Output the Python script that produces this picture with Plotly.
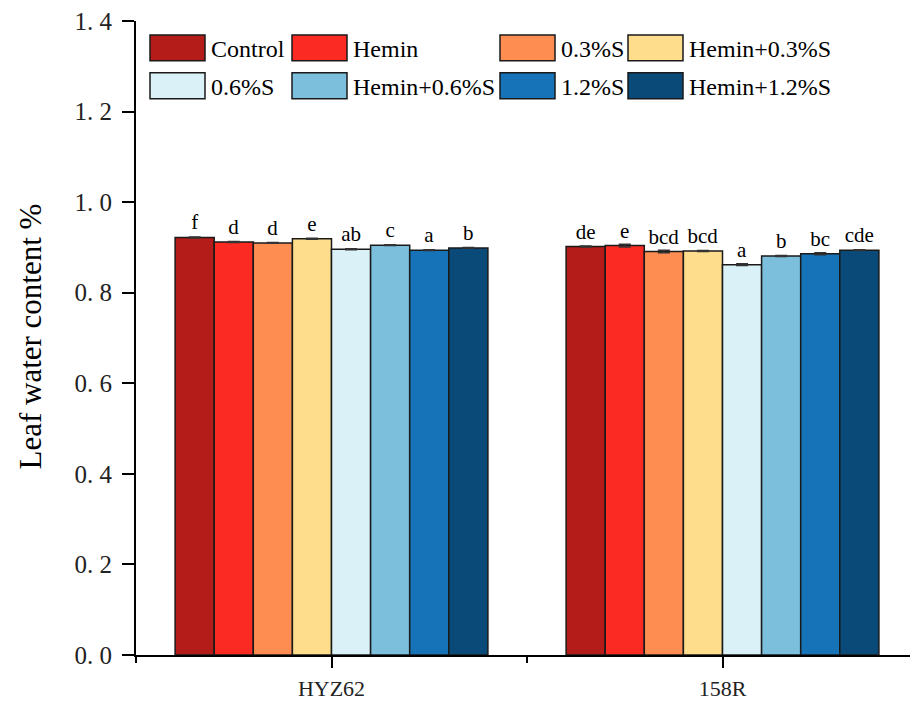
import plotly.graph_objects as go

categories = ["HYZ62", "158R"]
treatments = ["Control", "Hemin", "0.3%S", "Hemin+0.3%S",
              "0.6%S", "Hemin+0.6%S", "1.2%S", "Hemin+1.2%S"]
colors = ["#B31C18", "#FB2B23", "#FE8D52", "#FEDE8C",
          "#DAF1F7", "#7BBFDC", "#1673B8", "#0A4A78"]
values = {
    "Control":     [0.922, 0.902],
    "Hemin":       [0.912, 0.904],
    "0.3%S":       [0.910, 0.891],
    "Hemin+0.3%S": [0.919, 0.892],
    "0.6%S":       [0.896, 0.862],
    "Hemin+0.6%S": [0.905, 0.881],
    "1.2%S":       [0.894, 0.886],
    "Hemin+1.2%S": [0.899, 0.894],
}
errors = {
    "Control":     [0.001, 0.001],
    "Hemin":       [0.001, 0.003],
    "0.3%S":       [0.001, 0.003],
    "Hemin+0.3%S": [0.001, 0.001],
    "0.6%S":       [0.001, 0.002],
    "Hemin+0.6%S": [0.001, 0.001],
    "1.2%S":       [0.001, 0.002],
    "Hemin+1.2%S": [0.001, 0.001],
}
letters = {
    "Control":     ["f", "de"],
    "Hemin":       ["d", "e"],
    "0.3%S":       ["d", "bcd"],
    "Hemin+0.3%S": ["e", "bcd"],
    "0.6%S":       ["ab", "a"],
    "Hemin+0.6%S": ["c", "b"],
    "1.2%S":       ["a", "bc"],
    "Hemin+1.2%S": ["b", "cde"],
}
y_ticks = [0.0, 0.2, 0.4, 0.6, 0.8, 1.0, 1.2, 1.4]
y_ticktext = ["0. 0", "0. 2", "0. 4", "0. 6", "0. 8", "1. 0", "1. 2", "1. 4"]

FONT = "Liberation Serif"
xpos = list(range(len(categories)))

fig = go.Figure()
for t, c in zip(treatments, colors):
    fig.add_trace(go.Bar(
        x=xpos, y=values[t], name=t,
        marker=dict(color=c, line=dict(color="#1a1a1a", width=1.5)),
        error_y=dict(type="data", array=errors[t], color="#333333",
                     thickness=1.5, width=6),
        text=letters[t], textposition="outside",
        textfont=dict(family=FONT, size=21, color="black"),
        constraintext="none", cliponaxis=False, showlegend=False,
    ))

# page body has an 8px margin; compensate so the plot lands where it should
OFF = 8
FW, FH = 910, 693
L, R, T, B = 136 - OFF, 0, 20 - OFF, 44
pw = FW - L - R
ph = FH - T - B


def px_x(p):
    return (p - OFF - L) / pw


def px_y(p):
    return 1 - (p - OFF - T) / ph


# custom legend (large swatches)
col_x = [150, 292, 500, 628]
row_y = [(34, 60), (72, 98)]
shapes = []
annotations = []
for i, (t, c) in enumerate(zip(treatments, colors)):
    r, k = divmod(i, 4)
    x0 = col_x[k]
    x1 = x0 + 55
    y0, y1 = row_y[r]
    shapes.append(dict(type="rect", xref="paper", yref="paper",
                       x0=px_x(x0), x1=px_x(x1), y0=px_y(y1), y1=px_y(y0),
                       fillcolor=c, line=dict(color="#1a1a1a", width=1.5)))
    annotations.append(dict(xref="paper", yref="paper",
                            x=px_x(x1 + 4), y=px_y((y0 + y1) / 2 + 1),
                            text=t, showarrow=False, xanchor="left",
                            yanchor="middle",
                            font=dict(family=FONT, size=24, color="black")))

annotations.append(dict(xref="paper", yref="paper", x=px_x(31), y=px_y(337),
                        text="Leaf water content %", showarrow=False,
                        textangle=-90, xanchor="center", yanchor="middle",
                        font=dict(family=FONT, size=31, color="black")))

fig.update_layout(
    width=FW, height=FH,
    margin=dict(l=L, r=R, t=T, b=B),
    paper_bgcolor="white", plot_bgcolor="white",
    barmode="group", bargap=0.2, bargroupgap=0,
    shapes=shapes, annotations=annotations,
    font=dict(family=FONT, color="black"),
)
fig.update_xaxes(
    range=[-0.5, 1.5], tickmode="array", tickvals=xpos, ticktext=categories,
    showline=True, linecolor="black", linewidth=2, mirror=False,
    ticks="outside", ticklen=11, tickwidth=2, tickcolor="black",
    tickfont=dict(family=FONT, size=22, color="#222"),
    ticklabelstandoff=2,
    showgrid=False, zeroline=False,
    minor=dict(tickmode="linear", tick0=-0.5, dtick=1, ticks="outside",
               ticklen=6, tickwidth=2, tickcolor="black", showgrid=False),
)
fig.update_yaxes(
    range=[0, 1.4], tickmode="array", tickvals=y_ticks, ticktext=y_ticktext,
    showline=True, linecolor="black", linewidth=2,
    ticks="outside", ticklen=12, tickwidth=2, tickcolor="black",
    tickfont=dict(family=FONT, size=25, color="#222"),
    ticklabelstandoff=5, ticklabeloverflow="allow",
    showgrid=False, zeroline=False,
)

fig.write_html("out.html")
